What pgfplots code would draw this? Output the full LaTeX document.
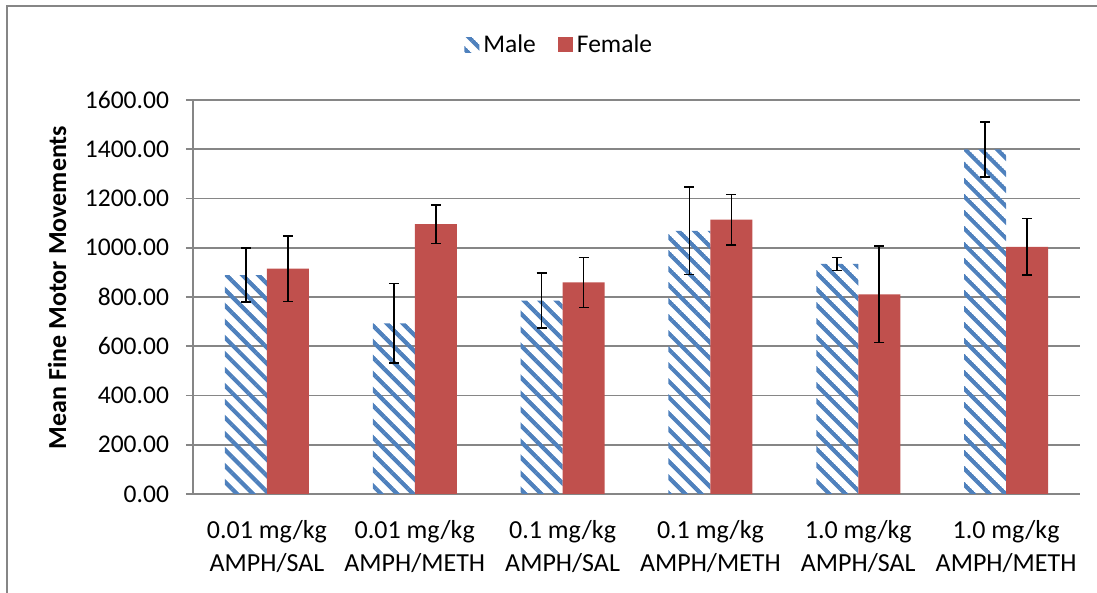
\documentclass[border=0pt]{standalone}
\usepackage{pgfplots}
\pgfplotsset{compat=1.18}
\usepackage{fontspec}
\setmainfont{Carlito}
\usetikzlibrary{patterns.meta}
\definecolor{maleblue}{RGB}{79,129,189}
\definecolor{femred}{RGB}{192,80,77}
\definecolor{gridgray}{RGB}{134,134,134}
\tikzdeclarepattern{
  name=malestripes,
  type=uncolored,
  bounding box={(0,-1.05pt) and (5.66pt,1.05pt)},
  tile size={(5.66pt,5.66pt)},
  tile transformation={rotate=-45},
  code={\pgfsetlinewidth{2.1pt}\pgfpathmoveto{\pgfpoint{-0.5pt}{0pt}}\pgfpathlineto{\pgfpoint{6.2pt}{0pt}}\pgfusepath{stroke}}
}
\pgfplotstableread{
x male maleerr female femaleerr
0 889 109 915 133
1 693 162 1096 78
2 785 112 859 102
3 1069 178 1114 103
4 934 27 811 195
5 1399 112 1004 115
}\datatable
\begin{document}
\begin{tikzpicture}
\useasboundingbox (0pt,0pt) rectangle (548.5pt,296.5pt);
\draw[gridgray, line width=1pt] (3.5pt,0pt) -- (3.5pt,293.5pt) -- (548.5pt,293.5pt);
\begin{axis}[
  at={(96.5pt,49.5pt)}, anchor=south west,
  scale only axis, width=443.5pt, height=197pt,
  ybar=0pt, bar width=21pt,
  xmin=-0.5, xmax=5.5, ymin=0, ymax=1600,
  ytick={0,200,...,1600},
  xtick={0,...,5},
  xticklabels={{0.01 mg/kg\\AMPH/SAL},{0.01 mg/kg\\AMPH/METH},{0.1 mg/kg\\AMPH/SAL},{0.1 mg/kg\\AMPH/METH},{1.0 mg/kg\\AMPH/SAL},{1.0 mg/kg\\AMPH/METH}},
  xticklabel style={align=center, font=\fontsize{13}{16.5}\selectfont, text depth=0pt, yshift=-6pt},
  major x tick style={draw=none},
  extra x ticks={-0.5,0.5,1.5,2.5,3.5,4.5,5.5},
  extra x tick labels={},
  extra x tick style={major tick length=4pt, tick style={gridgray, line width=0.8pt}, grid=none, tick align=outside},
  yticklabel style={font=\fontsize{12.75}{15}\selectfont, xshift=-5pt},
  /pgf/number format/assume math mode=true,
  yticklabel={\pgfmathprintnumber[fixed,fixed zerofill,precision=2,1000 sep={}]{\tick}},
  ymajorgrids, major grid style={gridgray, line width=0.8pt},
  axis line style={gridgray, line width=0.8pt},
  tick align=outside, major tick length=3.5pt,
  ytick style={gridgray, line width=0.8pt},
  axis x line*=bottom, axis y line*=left,
  ylabel={\bfseries Mean Fine Motor Movements},
  every axis y label/.style={at={(axis description cs:-0.1533,0.524)}, rotate=90, anchor=center,
    font=\fontsize{13}{15}\selectfont},
  legend style={at={(0.414,1)}, anchor=center, yshift=27.5pt, draw=none, legend columns=2,
    font=\fontsize{12.75}{15}\selectfont, /tikz/every even column/.append style={column sep=9pt},
    /tikz/every odd column/.append style={}},
  legend image code/.code={\fill[#1] (0,-3.75pt) rectangle (7.5pt,3.75pt);},
  clip=false,
]
\addplot[pattern=malestripes, pattern color=maleblue, draw=none,
  error bars/.cd, y dir=both, y explicit,
  error bar style={black, line width=0.8pt},
  error mark options={rotate=90, mark size=2.5pt, line width=0.8pt, black}]
  table[x=x, y=male, y error=maleerr]{\datatable};
\addplot[fill=femred, draw=none,
  error bars/.cd, y dir=both, y explicit,
  error bar style={black, line width=0.8pt},
  error mark options={rotate=90, mark size=2.5pt, line width=0.8pt, black}]
  table[x=x, y=female, y error=femaleerr]{\datatable};
\legend{Male, Female}
\end{axis}
\end{tikzpicture}
\end{document}
